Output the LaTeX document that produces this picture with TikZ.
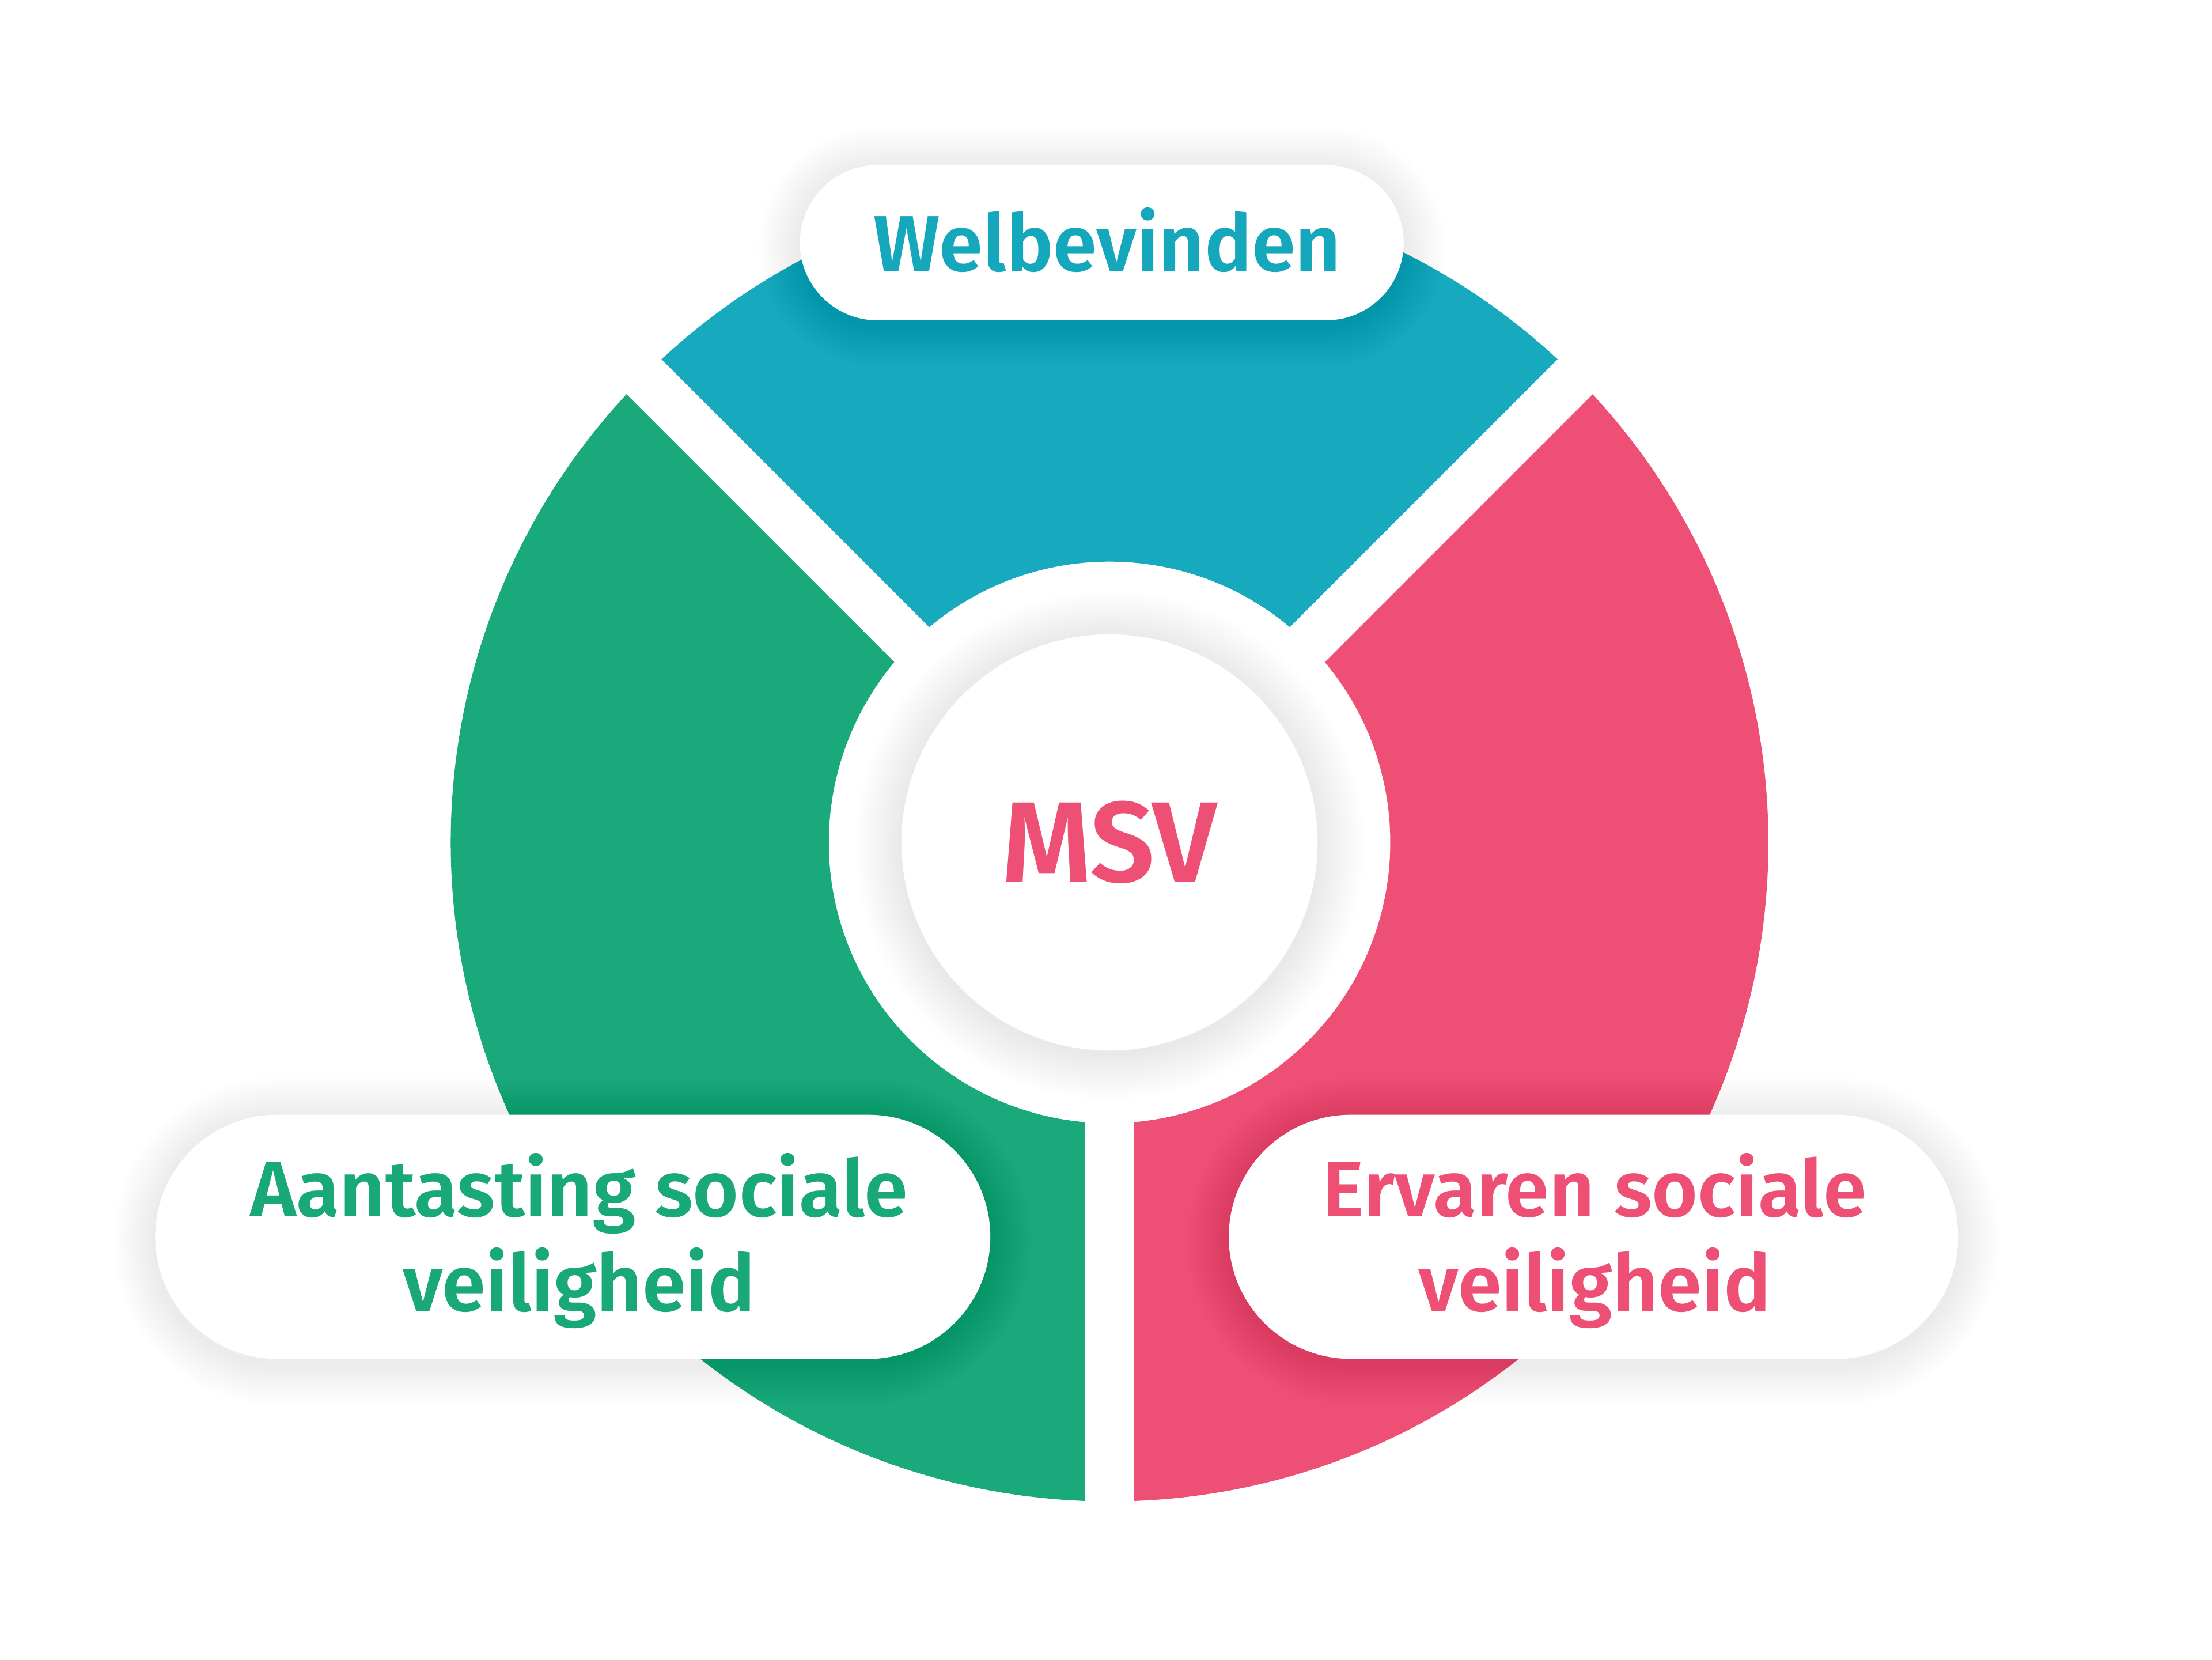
\documentclass[tikz,border=0pt]{standalone}
\usepackage{fontspec}
\setmainfont{Fira Sans}[BoldFont={Fira Sans SemiBold}, BoldFeatures={StylisticSet=1}]
\usetikzlibrary{calc,shapes.misc}
\definecolor{cteal}{HTML}{17A9BD}
\definecolor{cgreen}{HTML}{19A97B}
\definecolor{cpink}{HTML}{EE5075}
\definecolor{tteal}{HTML}{15A8BC}
\definecolor{tgreen}{HTML}{18A87A}
\definecolor{tpink}{HTML}{EE4F74}
\tikzset{
  pill/.style={rounded rectangle, fill=white, draw=none, inner sep=0pt},
  gap/.style={white, line width=35pt},
  lbl/.style={font=\bfseries\fontsize{56}{67}\selectfont, anchor=base, inner sep=0pt},
  shadowstroke/.style={draw=black, line join=round, draw opacity=0.0038},
}
% pill outline path: centre x, centre y, width, height
\newcommand\mypillpath[4]{%
  (#1-#3/2+#4/2,#2-#4/2) -- (#1+#3/2-#4/2,#2-#4/2)
  arc[start angle=-90,end angle=90,radius=#4/2]
  -- (#1-#3/2+#4/2,#2+#4/2)
  arc[start angle=90,end angle=270,radius=#4/2] -- cycle}
\newcommand\mypillshadow[4]{%
  \foreach \d in {3,6,...,60}{\draw[shadowstroke, line width=\d pt] \mypillpath{#1}{#2-3}{#3}{#4};}}
\begin{document}
\begin{tikzpicture}[x=1pt,y=1pt]
\useasboundingbox[fill=white] (0,0) rectangle (1568,1176);
\coordinate (C) at (786.5,579);
% ring segments
\fill[cteal] ($(C)+(45:467)$) arc[start angle=45,end angle=135,radius=467]
  -- ($(C)+(135:199)$) arc[start angle=135,end angle=45,radius=199] -- cycle;
\fill[cgreen] ($(C)+(135:467)$) arc[start angle=135,end angle=270,radius=467]
  -- ($(C)+(270:199)$) arc[start angle=270,end angle=135,radius=199] -- cycle;
\fill[cpink] ($(C)+(-90:467)$) arc[start angle=-90,end angle=45,radius=467]
  -- ($(C)+(45:199)$) arc[start angle=45,end angle=-90,radius=199] -- cycle;
% gaps
\draw[gap] (C) -- ++(45:490);
\draw[gap] (C) -- ++(135:490);
\draw[gap] (C) -- ++(270:490);
% centre shadow and circle
\foreach \d in {3,6,...,66}{\draw[shadowstroke, line width=\d pt] ($(C)+(0,-2)$) circle[radius=147.5];}
\node[circle, fill=white, minimum size=295pt, inner sep=0pt,
  text=tpink, font=\bfseries\fontsize{81}{90}\selectfont] (msv) at (C) {MSV};
% pills
\mypillshadow{781}{1004}{428}{110}
\mypillshadow{406}{299.5}{592}{173}
\mypillshadow{1129.5}{299.5}{517}{173}
\node[pill, minimum width=428pt, minimum height=110pt] (pw) at (781,1004) {};
\node[lbl, text=tteal] (tw) at (785,984) {Welbevinden};
\node[pill, minimum width=592pt, minimum height=173pt] (pa) at (406,299.5) {};
\node[lbl, text=tgreen] (ta1) at (410.5,314) {Aantasting sociale};
\node[lbl, text=tgreen] (ta2) at (410.5,247) {veiligheid};
\node[pill, minimum width=517pt, minimum height=173pt] (pe) at (1129.5,299.5) {};
\node[lbl, text=tpink] (te1) at (1130.5,314) {Ervaren sociale};
\node[lbl, text=tpink] (te2) at (1130.5,247) {veiligheid};
\end{tikzpicture}
\end{document}
